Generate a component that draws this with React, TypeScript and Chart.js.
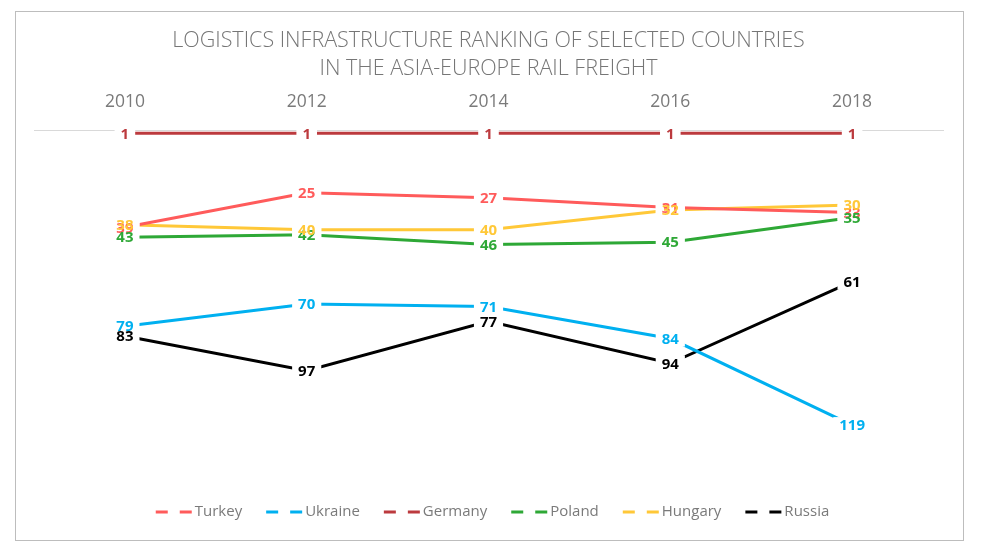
import React, { useEffect, useRef } from "react";
import { Chart, registerables } from "chart.js";

Chart.register(...registerables);

const years = ["2010", "2012", "2014", "2016", "2018"];
const turkey = [39, 25, 27, 31, 33];
const ukraine = [79, 70, 71, 84, 119];
const germany = [1, 1, 1, 1, 1];
const poland = [43, 42, 46, 45, 35];
const hungary = [38, 40, 40, 32, 30];
const russia = [83, 97, 77, 94, 61];

const titleLines = [
  "LOGISTICS INFRASTRUCTURE RANKING OF SELECTED COUNTRIES",
  "IN THE ASIA-EUROPE RAIL FREIGHT",
];

const seriesNames = ["Turkey", "Ukraine", "Germany", "Poland", "Hungary", "Russia"];
const seriesData = [turkey, ukraine, germany, poland, hungary, russia];
const seriesColors = ["#FF5B5B", "#00B0F0", "#BC3A3E", "#2EA836", "#FFC838", "#000000"];

const FONT = '"Open Sans", "Noto Sans", sans-serif';

const labelPlugin = {
  id: "valueLabels",
  afterDatasetsDraw(chart: any) {
    const ctx = chart.ctx;
    ctx.save();
    ctx.font = `bold 15px ${FONT}`;
    ctx.textAlign = "center";
    ctx.textBaseline = "middle";
    const items: any[] = [];
    chart.data.datasets.forEach((ds: any, di: number) => {
      const meta = chart.getDatasetMeta(di);
      meta.data.forEach((pt: any, i: number) => {
        const txt = String(ds.data[i]);
        items.push({ x: pt.x, y: pt.y, txt, color: ds.borderColor });
      });
    });
    ctx.fillStyle = "#ffffff";
    items.forEach((it) => {
      const w = ctx.measureText(it.txt).width;
      ctx.fillRect(it.x - w / 2 - 6, it.y - 8, w + 12, 16);
    });
    items.forEach((it) => {
      ctx.fillStyle = it.color;
      ctx.fillText(it.txt, it.x, it.y + 1);
    });
    ctx.restore();
  },
};

const legendPlugin = {
  id: "customLegend",
  afterDraw(chart: any) {
    const ctx = chart.ctx;
    ctx.save();
    ctx.font = `15px ${FONT}`;
    const dashW = 36;
    const gapText = 3;
    const spacing = 24;
    const widths = seriesNames.map((n) => dashW + gapText + ctx.measureText(n).width);
    const total = widths.reduce((a, b) => a + b, 0) + spacing * (seriesNames.length - 1);
    const area = chart.chartArea;
    let x = (area.left + area.right) / 2 - total / 2 + 4;
    const y = 512;
    seriesNames.forEach((n, i) => {
      ctx.strokeStyle = seriesColors[i];
      ctx.lineWidth = 3;
      ctx.setLineDash([12, 12]);
      ctx.beginPath();
      ctx.moveTo(x, y);
      ctx.lineTo(x + dashW, y);
      ctx.stroke();
      ctx.setLineDash([]);
      ctx.fillStyle = "#7a7a7a";
      ctx.textAlign = "left";
      ctx.textBaseline = "middle";
      ctx.fillText(n, x + dashW + gapText, y);
      x += widths[i] + spacing;
    });
    ctx.restore();
  },
};

export default function App() {
  const ref = useRef<HTMLCanvasElement>(null);
  useEffect(() => {
    if (!ref.current) return;
    const chart = new Chart(ref.current, {
      type: "line",
      data: {
        labels: years,
        datasets: seriesNames.map((n, i) => ({
          label: n,
          data: seriesData[i],
          borderColor: seriesColors[i],
          backgroundColor: seriesColors[i],
          borderWidth: 3,
          pointRadius: 0,
          tension: 0,
          fill: false,
        })),
      },
      options: {
        animation: false,
        responsive: false,
        layout: { padding: { left: 34, right: 49, top: 0, bottom: 73 } },
        plugins: {
          legend: { display: false },
          tooltip: { enabled: false },
          title: {
            display: true,
            text: titleLines,
            color: "#767676",
            font: { family: FONT, size: 21.5, weight: "300" as any, lineHeight: 1.3 },
            padding: { top: 27, bottom: 0 },
          },
        },
        scales: {
          x: {
            position: "top",
            offset: true,
            grid: { display: false, drawTicks: false },
            border: { display: true, color: "#d9d9d9", width: 1 },
            ticks: {
              color: "#7a7a7a",
              font: { family: FONT, size: 17.5, lineHeight: 1.2 },
              padding: 18,
            },
            afterFit: (scale: any) => {
              scale.height = 48;
            },
          },
          y: {
            display: false,
            reverse: true,
            min: 0,
            max: 140,
          },
        },
      },
      plugins: [labelPlugin, legendPlugin],
    });
    return () => chart.destroy();
  }, []);
  return (
    <div style={{ position: "absolute", left: 0, top: 0, width: 992, height: 550, background: "#fff" }}>
      <div
        style={{
          position: "absolute",
          left: 15,
          top: 11,
          width: 949,
          height: 530,
          boxSizing: "border-box",
          border: "1px solid #bdbdbd",
        }}
      />
      <canvas ref={ref} width={992} height={550} style={{ position: "absolute", left: 0, top: 0 }} />
    </div>
  );
}
